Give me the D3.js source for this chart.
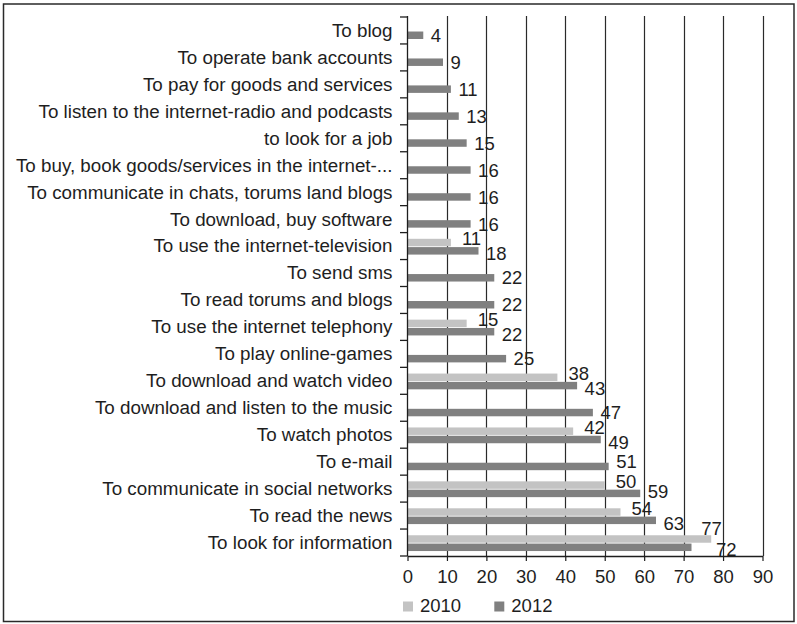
<!DOCTYPE html>
<html>
<head>
<meta charset="utf-8">
<script src="https://cdn.jsdelivr.net/npm/d3@7"></script>
<style>
  html, body { margin: 0; padding: 0; background: #fff; }
  svg { display: block; font-family: "Liberation Sans", Arial, Helvetica, sans-serif; }
</style>
</head>
<body>
<svg id="chart" width="797" height="624"></svg>
<script>
// Internet usage purposes, share of users (%)
const categories = [
  "To blog",
  "To operate bank accounts",
  "To pay for goods and services",
  "To listen to the internet-radio and podcasts",
  "to look for a job",
  "To buy, book goods/services in the internet-...",
  "To communicate in chats, torums land blogs",
  "To download, buy software",
  "To use the internet-television",
  "To send sms",
  "To read torums and blogs",
  "To use the internet telephony",
  "To play online-games",
  "To download and watch video",
  "To download and listen to the music",
  "To watch photos",
  "To e-mail",
  "To communicate in social networks",
  "To read the news",
  "To look for information"
];
const series = ["2010", "2012"];
const values2010 = [null, null, null, null, null, null, null, null, 11, null, null, 15, null, 38, null, 42, null, 50, 54, 77];
const values2012 = [4, 9, 11, 13, 15, 16, 16, 16, 18, 22, 22, 22, 25, 43, 47, 49, 51, 59, 63, 72];
const xTicks = [0, 10, 20, 30, 40, 50, 60, 70, 80, 90];

const colors = { "2010": "#c3c3c3", "2012": "#808080" };
const textColor = "#1e1e1e";
const fontSize = 18.5;
const catFontSize = 18.8;

// hand-placed value labels (dx, dy in px from the default spot)
const labelNudge = {
  "To e-mail": { "2012": [0, -5] },
  "To communicate in social networks": { "2012": [0, -5] },
  "To look for information": { "2010": [-21, -7], "2012": [17, 0] }
};

const svg = d3.select("#chart");
const plotLeft = 407.5, plotRight = 762.5, plotTop = 17, plotBottom = 556;

// outer frame
svg.append("rect")
  .attr("x", 3.5).attr("y", 4).attr("width", 790.5).attr("height", 617.5)
  .attr("fill", "none").attr("stroke", "#2a2a2a").attr("stroke-width", 1.5);

const x = d3.scaleLinear().domain([0, 90]).range([plotLeft, plotRight]);
const y = d3.scaleBand().domain(categories).range([plotTop, plotBottom]).padding(0);
const bw = y.bandwidth();
const ys = d3.scaleBand().domain(series).range([0.23 * bw, 0.816 * bw]).paddingInner(0.1);

// vertical gridlines
svg.append("g").selectAll("line")
  .data(xTicks.filter(t => t > 0))
  .join("line")
  .attr("x1", d => Math.round(x(d)) + 0.5).attr("x2", d => Math.round(x(d)) + 0.5)
  .attr("y1", plotTop - 1).attr("y2", plotBottom)
  .attr("stroke", "#2a2a2a").attr("stroke-width", 1.2);

// rows of bars
const rows = categories.map((c, i) => ({ cat: c, "2010": values2010[i], "2012": values2012[i] }));
const bars = [];
rows.forEach(r => series.forEach(s => { if (r[s] != null) bars.push({ cat: r.cat, s, v: r[s], paired: r["2010"] != null }); }));

svg.append("g").selectAll("rect")
  .data(bars)
  .join("rect")
  .attr("x", x(0))
  .attr("y", d => y(d.cat) + ys(d.s))
  .attr("width", d => x(d.v) - x(0))
  .attr("height", ys.bandwidth())
  .attr("fill", d => colors[d.s]);

// value labels
svg.append("g").selectAll("text")
  .data(bars)
  .join("text")
  .attr("x", d => {
    const n = (labelNudge[d.cat] || {})[d.s];
    const base = x(d.v) + (d.paired && d.s === "2010" ? 11 : 7.5);
    return base + (n ? n[0] : 0);
  })
  .attr("y", d => {
    const n = (labelNudge[d.cat] || {})[d.s];
    let cy = y(d.cat) + ys(d.s) + ys.bandwidth() / 2;
    if (d.paired) cy += d.s === "2010" ? -4 : 2.5;
    return cy + (n ? n[1] : 0);
  })
  .attr("dy", "0.36em")
  .attr("font-size", fontSize)
  .attr("fill", textColor)
  .text(d => d.v);

// y axis: line, boundary ticks, category labels
const yAxis = svg.append("g");
yAxis.append("line")
  .attr("x1", plotLeft).attr("x2", plotLeft).attr("y1", plotTop - 1).attr("y2", plotBottom)
  .attr("stroke", "#1e1e1e").attr("stroke-width", 1.3);
const bounds = categories.map(c => y(c)).concat([plotBottom]);
yAxis.selectAll("line.tick")
  .data(bounds)
  .join("line").attr("class", "tick")
  .attr("x1", plotLeft - 7.5).attr("x2", plotLeft)
  .attr("y1", d => d).attr("y2", d => d)
  .attr("stroke", "#1e1e1e").attr("stroke-width", 1.3);

svg.append("g")
  .attr("transform", `translate(${plotLeft},0)`)
  .call(d3.axisLeft(y).tickSize(0).tickPadding(15))
  .call(g => g.select(".domain").remove())
  .call(g => g.selectAll("text")
    .attr("font-size", catFontSize).attr("fill", textColor)
    .attr("font-family", "'Liberation Sans', Arial, sans-serif")
    .attr("dy", "0.34em"));

// x axis
svg.append("g")
  .attr("transform", `translate(0,${plotBottom})`)
  .call(d3.axisBottom(x).tickValues(xTicks).tickSize(5).tickPadding(9).tickSizeOuter(0))
  .call(g => g.select(".domain").attr("stroke", "#1e1e1e").attr("stroke-width", 1.3))
  .call(g => g.selectAll(".tick line").attr("stroke", "#1e1e1e").attr("stroke-width", 1.2))
  .call(g => g.selectAll("text")
    .attr("font-size", fontSize).attr("fill", textColor)
    .attr("font-family", "'Liberation Sans', Arial, sans-serif"));

// legend
const legendX = [403, 494.3];
const legend = svg.append("g").selectAll("g")
  .data(series)
  .join("g")
  .attr("transform", (d, i) => `translate(${legendX[i]},601.5)`);
legend.append("rect")
  .attr("width", 10).attr("height", 10)
  .attr("fill", d => colors[d]);
legend.append("text")
  .attr("x", 17).attr("y", 10.5)
  .attr("font-size", fontSize).attr("fill", textColor)
  .text(d => d);
</script>
</body>
</html>
